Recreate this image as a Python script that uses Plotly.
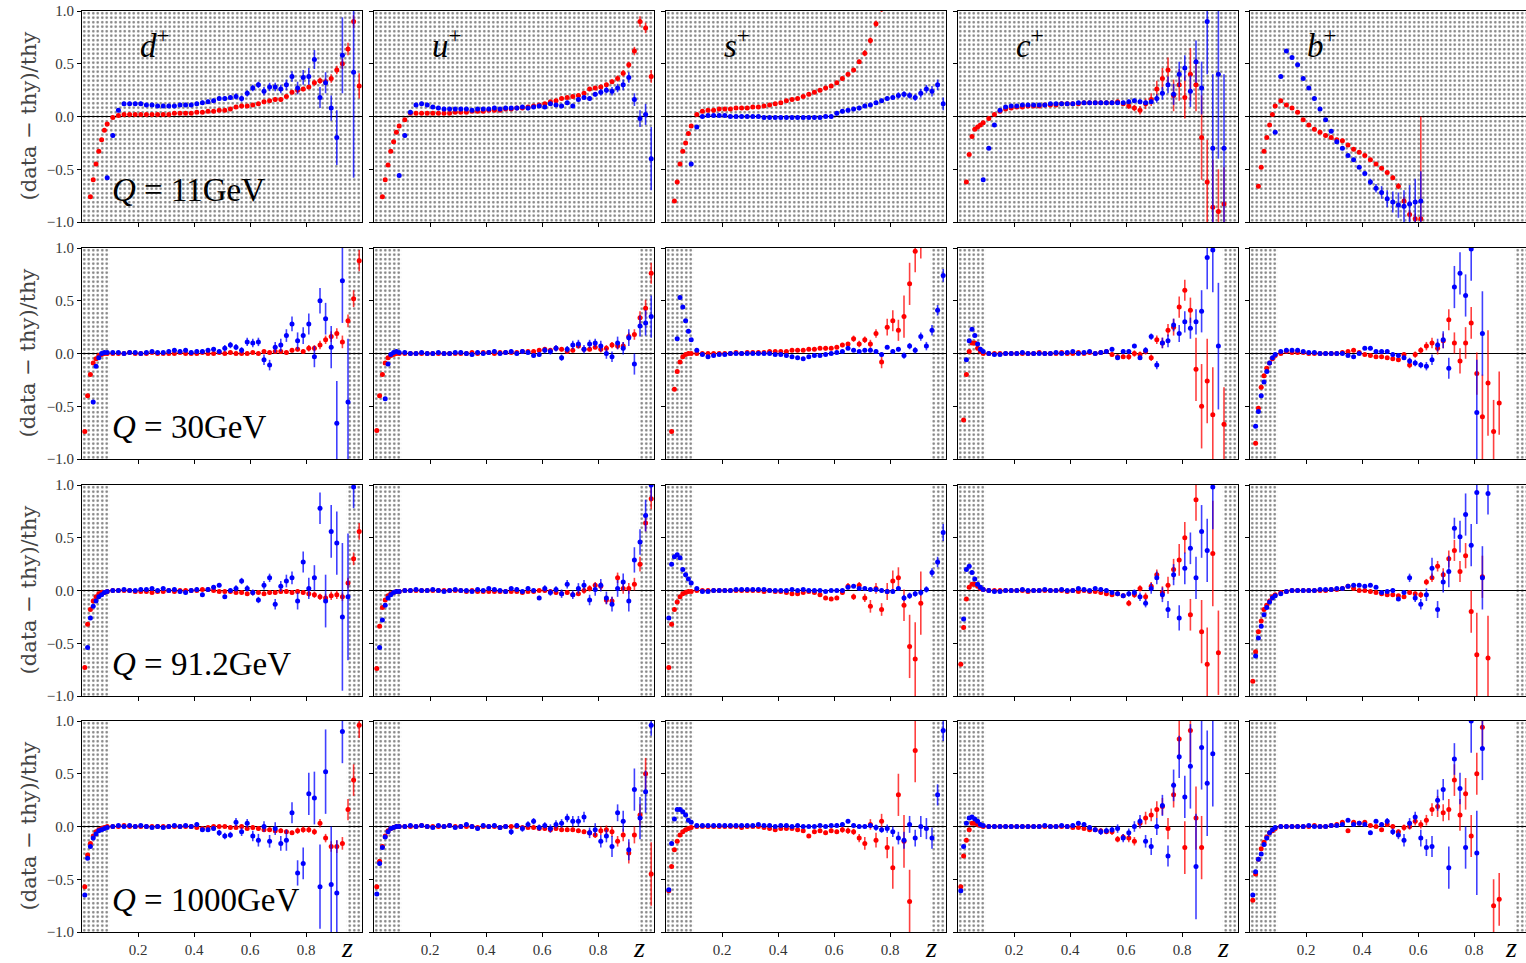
import plotly.graph_objects as go
from plotly.subplots import make_subplots

N = None
# z grid shared by every panel
Z = [0.01, 0.02, 0.03, 0.04, 0.05, 0.06, 0.07, 0.08, 0.09,
     0.11, 0.13, 0.15, 0.17, 0.19, 0.21, 0.23, 0.25, 0.27, 0.29,
     0.31, 0.33, 0.35, 0.37, 0.39, 0.41, 0.43, 0.45, 0.47, 0.49,
     0.51, 0.53, 0.55, 0.57, 0.59, 0.61, 0.63, 0.65, 0.67, 0.69,
     0.71, 0.73, 0.75, 0.77, 0.79, 0.81, 0.83, 0.85, 0.87, 0.89,
     0.91, 0.93, 0.95, 0.97, 0.99]

FLAVOURS = ["d", "u", "s", "c", "b"]
Q_LABELS = ["11GeV", "30GeV", "91.2GeV", "1000GeV"]
SHADE_LOW_Z = 0.10
SHADE_HIGH_Z = 0.946
Y_TICKS = [-1.0, -0.5, 0.0, 0.5, 1.0]
X_TICKS = [0.2, 0.4, 0.6, 0.8]

# values in units of 0.01 ((data-thy)/thy * 100), errors likewise
# ---------------- Q = 11 GeV ----------------
d11_red = [N,N,-76,-60,-45,-33,-22,-13,-7,
 -1,1,2,2,2,2,2,2,2,2,
 2,3,3,3,3,4,4,5,5,6,
 6,7,9,10,10,11,12,14,15,16,
 16,19,23,25,26,28,32,34,33,36,
 44,50,64,90,29]
d11_red_err = [0,0,1,1,1,1,1,1,1,
 1,1,1,1,1,1,1,1,1,1,
 1,1,1,1,1,1,1,1,1,1,
 1,1,1,1,1,1,1,1,1,2,
 2,2,2,2,2,2,3,3,3,4,
 4,5,6,6,12]
d11_blue = [N,N,N,N,N,N,N,N,-58,
 -18,6,12,12,12,12,11,11,10,10,
 10,10,11,11,11,12,13,14,15,17,
 17,18,19,17,22,27,30,24,28,28,
 26,30,38,27,37,38,54,18,32,8,
 -20,58,N,42,N]
d11_blue_err = [0,0,0,0,0,0,0,0,1,
 2,2,2,2,2,2,2,2,2,2,
 2,2,2,2,2,2,2,2,2,2,
 2,2,3,3,3,3,3,4,4,4,
 4,5,5,6,7,8,9,10,10,12,
 26,36,0,100,0]

u11_red = [N,N,-76,-60,-46,-33,-24,-15,-9,
 -3,3,3,3,3,3,3,3,3,4,
 4,4,5,5,5,6,6,6,7,7,
 8,8,9,10,11,12,14,15,17,18,
 19,20,22,26,27,28,30,33,36,41,
 49,62,90,84,38]
u11_red_err = [0,0,1,1,1,1,1,1,1,
 1,1,1,1,1,1,1,1,1,1,
 1,1,1,1,1,1,1,1,1,1,
 1,1,1,1,1,1,1,1,1,1,
 1,1,1,1,1,2,2,2,3,3,
 3,4,5,5,6]
u11_blue = [N,N,N,N,N,N,N,N,-56,
 -18,4,11,12,11,9,8,7,7,7,
 7,7,6,7,7,7,8,7,8,8,
 8,9,8,9,10,9,12,11,10,13,
 10,16,18,17,21,23,25,24,27,30,
 37,16,-2,2,-40]
u11_blue_err = [0,0,0,0,0,0,0,0,1,
 2,2,2,2,2,2,2,2,2,2,
 2,2,2,2,2,2,2,2,2,2,
 2,2,2,2,2,2,2,2,2,2,
 2,2,2,2,2,3,3,4,4,5,
 5,6,8,10,30]

s11_red = [N,N,-80,-62,-45,-33,-25,-16,-9,
 2,5,6,6,7,7,7,8,8,8,
 9,9,10,11,12,13,15,16,17,19,
 21,23,25,27,29,32,36,40,44,52,
 60,72,88,102,120,N,N,N,N,N,
 N,N,N,N,N]
s11_red_err = [0,0,1,1,1,1,1,1,1,
 1,1,1,1,1,1,1,1,1,1,
 1,1,1,1,1,1,1,1,1,1,
 1,1,1,1,1,2,2,2,2,2,
 3,3,3,3,3,0,0,0,0,0,
 0,0,0,0,0]
s11_blue = [N,N,N,N,N,N,N,N,-45,
 -10,0,1,1,1,1,0,0,0,0,
 0,0,-1,-1,-1,-1,-1,-1,-1,-1,
 -1,-1,-1,0,0,3,5,6,7,8,
 10,11,13,15,17,18,20,21,20,18,
 22,26,24,30,12]
s11_blue_err = [0,0,0,0,0,0,0,0,1,
 1,1,1,1,1,1,1,1,1,1,
 1,1,1,1,1,1,1,1,1,1,
 1,1,1,1,1,2,2,2,2,2,
 2,2,2,2,2,2,3,3,3,3,
 4,4,5,5,6]

c11_red = [N,N,-62,-36,-19,-12,-10,-8,-6,
 -2,2,5,7,8,9,9,10,10,10,
 11,11,11,12,12,12,12,13,13,13,
 13,13,13,14,12,10,8,6,12,16,
 26,36,44,20,30,18,40,30,-20,-62,
 -86,-90,-83,N,N]
c11_red_err = [0,0,1,1,1,1,1,1,1,
 1,1,1,1,1,1,1,1,1,1,
 1,1,1,1,1,1,1,1,1,1,
 1,1,1,1,2,3,3,4,5,6,
 8,10,12,15,15,20,25,25,40,40,
 45,40,35,0,0]
c11_blue = [N,N,N,N,N,N,N,N,-60,
 -30,-8,6,9,10,10,11,11,11,11,
 11,12,12,12,12,12,13,13,13,13,
 13,13,13,13,13,14,15,14,13,14,
 17,22,30,21,40,46,24,52,27,90,
 -30,40,-30,N,N]
c11_blue_err = [0,0,0,0,0,0,0,0,1,
 1,1,1,1,1,1,1,1,1,1,
 1,1,1,1,1,1,1,1,1,1,
 2,2,2,2,2,2,2,2,2,2,
 4,6,8,10,12,12,15,20,25,50,
 70,80,70,0,0]

b11_red = [N,N,-66,-48,-33,-20,-8,2,10,
 15,11,8,4,-3,-8,-12,-15,-18,-20,
 -22,-23,-27,-31,-34,-37,-41,-45,-49,-53,
 -58,-66,-80,-93,-97,-97,N,N,N,N,
 N,N,N,N,N,N,N,N,N,N,
 N,N,N,N,N]
b11_red_err = [0,0,1,1,1,1,1,1,1,
 1,1,1,1,1,1,1,1,1,1,
 1,1,1,1,1,1,1,1,1,2,
 2,3,4,4,5,97,0,0,0,0,
 0,0,0,0,0,0,0,0,0,0,
 0,0,0,0,0]
b11_blue = [N,N,N,N,N,N,N,N,-15,
 38,62,56,49,36,27,17,7,-3,-14,
 -24,-30,-37,-41,-48,-54,-62,-68,-72,-78,
 -81,-84,-85,-83,-81,-80,N,N,N,N,
 N,N,N,N,N,N,N,N,N,N,
 N,N,N,N,N]
b11_blue_err = [0,0,0,0,0,0,0,0,1,
 1,1,1,1,1,1,1,1,1,1,
 1,1,1,1,1,2,3,4,6,8,
 10,12,15,18,22,28,0,0,0,0,
 0,0,0,0,0,0,0,0,0,0,
 0,0,0,0,0]

# ---------------- Q = 30 GeV ----------------
d30_red = [-74,-40,-20,-9,-5,-2,-1,0,0,
 0,0,0,1,0,0,0,1,0,0,
 0,0,1,0,0,0,1,0,0,1,
 0,1,0,0,0,1,0,2,1,2,
 2,1,3,4,2,5,5,8,13,16,
 19,11,31,52,88]
d30_red_err = [1,1,1,1,1,1,1,1,1,
 1,1,1,1,1,1,1,1,1,1,
 1,1,1,1,1,1,1,1,1,1,
 1,1,1,1,1,1,1,1,1,1,
 1,1,2,2,2,3,3,4,4,5,
 5,6,6,8,10]
d30_blue = [N,N,N,-46,-12,-4,0,1,1,
 1,1,0,1,1,0,1,2,1,1,
 2,3,2,3,1,2,2,3,4,2,
 5,8,6,3,11,10,11,-6,-11,6,
 8,17,28,12,17,28,-3,50,33,6,
 -66,69,-46,N,N]
d30_blue_err = [0,0,0,1,1,1,1,1,1,
 1,1,1,1,1,1,1,1,1,1,
 2,2,2,2,2,2,2,2,2,2,
 3,3,3,3,4,4,4,5,5,5,
 6,6,7,8,8,10,10,12,15,20,
 40,40,60,0,0]

u30_red = [-73,-40,-20,-9,-4,-2,-1,0,0,
 0,0,0,0,0,0,0,0,0,0,
 0,0,1,0,1,1,0,1,1,1,
 1,2,2,2,3,4,3,5,4,2,
 3,7,4,4,6,4,5,8,7,7,
 16,18,34,43,76]
u30_red_err = [1,1,1,1,1,1,1,1,1,
 1,1,1,1,1,1,1,1,1,1,
 1,1,1,1,1,1,1,1,1,1,
 1,1,1,2,2,2,2,2,2,2,
 2,2,2,2,2,3,3,3,3,4,
 4,5,6,8,10]
u30_blue = [N,N,N,-43,-10,-1,1,2,1,
 1,0,0,1,0,0,1,0,0,1,
 1,0,-1,1,0,1,2,0,1,2,
 0,2,1,-2,-1,3,2,5,-4,4,
 8,9,4,9,10,7,0,-3,10,5,
 15,-10,26,29,35]
u30_blue_err = [0,0,0,1,1,1,1,1,1,
 1,1,1,1,1,1,1,1,1,1,
 2,2,2,2,2,2,2,2,2,2,
 2,2,2,2,2,3,3,3,3,3,
 4,4,4,4,4,5,5,5,6,6,
 8,10,10,12,20]

s30_red = [N,-74,-34,-17,-8,-3,-1,0,0,
 0,0,0,0,0,0,0,1,0,1,
 1,1,1,2,2,2,2,3,3,3,
 4,4,5,5,5,6,8,9,14,9,
 13,9,19,-8,25,31,22,35,66,97,
 110,N,N,N,N]
s30_red_err = [0,1,1,1,1,1,1,1,1,
 1,1,1,1,1,1,1,1,1,1,
 1,1,1,1,1,1,1,1,1,1,
 1,1,1,2,2,2,2,2,3,3,
 3,4,4,6,8,10,10,20,20,20,
 20,0,0,0,0]
s30_blue = [N,N,N,14,53,44,31,21,13,
 3,-1,-3,-2,-1,-1,0,0,0,0,
 0,0,0,0,-1,-1,-2,-3,-4,-5,
 -3,-2,-2,-1,0,1,2,5,3,2,
 3,3,2,-1,6,2,4,-2,7,3,
 16,7,22,41,74]
s30_blue_err = [0,0,0,1,1,1,1,1,1,
 1,1,1,1,1,1,1,1,1,1,
 1,1,1,1,1,1,1,1,1,1,
 1,1,1,1,1,1,1,1,1,1,
 2,2,2,2,2,2,2,3,3,3,
 4,4,5,5,6]

c30_red = [N,-63,-20,2,10,10,5,2,0,
 0,0,0,0,0,0,0,0,0,1,
 0,0,0,1,0,0,1,0,1,0,
 1,2,-1,-3,-3,-3,0,-1,2,-4,
 13,10,22,25,44,60,41,-15,-50,-26,
 -58,N,-67,N,N]
c30_red_err = [0,1,1,1,1,1,1,1,1,
 1,1,1,1,1,1,1,1,1,1,
 1,1,1,1,1,1,1,1,1,1,
 2,2,2,2,2,3,3,3,3,3,
 4,5,6,8,10,10,12,30,40,40,
 45,0,35,0,0]
c30_blue = [N,N,-6,12,23,17,9,4,2,
 0,-1,-1,0,0,0,1,0,0,0,
 0,0,1,0,1,2,0,1,2,0,
 1,2,4,-4,2,2,7,-4,3,16,
 -11,10,12,27,19,30,24,30,40,91,
 98,7,N,N,N]
c30_blue_err = [0,0,1,1,1,1,1,1,1,
 1,1,1,1,1,1,1,1,1,1,
 1,1,1,1,1,1,1,1,1,1,
 2,2,2,2,2,2,2,2,3,3,
 4,5,6,6,8,10,10,12,20,30,
 40,60,0,0,0]

b30_red = [N,-85,-52,-32,-21,-14,-9,-5,-2,
 0,2,1,1,1,0,0,0,0,0,
 0,1,2,3,1,-1,-2,-3,-3,-4,
 -5,-6,-1,-11,-1,3,7,10,5,12,
 32,10,-7,10,29,-19,-60,-28,-74,-47,
 N,N,N,N,N]
b30_red_err = [0,1,1,1,1,1,1,1,1,
 1,1,1,1,1,1,1,1,1,1,
 1,1,1,1,1,1,1,1,1,1,
 2,2,2,3,3,3,4,5,6,7,
 10,10,12,15,15,20,40,50,30,30,
 0,0,0,0,0]
b30_blue = [N,-69,-55,-40,-27,-17,-9,-4,-1,
 2,3,3,3,2,1,1,0,0,0,
 0,0,-2,-3,0,5,5,2,2,2,
 -1,-2,-4,-7,-9,-11,-12,-6,8,13,
 -14,63,76,55,99,-56,19,N,N,N,
 N,N,N,N,N]
b30_blue_err = [0,1,1,1,1,1,1,1,1,
 1,1,1,1,1,1,1,1,1,1,
 1,1,1,1,1,1,1,1,1,1,
 2,2,2,3,3,3,4,5,6,8,
 10,20,20,20,30,50,40,0,0,0,
 0,0,0,0,0]

# ---------------- Q = 91.2 GeV ----------------
d91_red = [-73,-32,-18,-10,-6,-3,-2,-2,-1,
 0,0,0,0,-1,-1,-1,-2,-1,-1,
 0,-1,0,0,0,0,1,1,0,-1,
 -1,-1,-2,-2,-3,-2,-2,-3,-2,-2,
 -1,-1,-2,-1,-2,-3,-4,-6,-7,-5,
 -4,-6,7,30,56]
d91_red_err = [1,1,1,1,1,1,1,1,1,
 1,1,1,1,1,1,1,1,1,1,
 1,1,1,1,1,1,1,1,1,1,
 1,1,1,1,1,1,1,2,2,2,
 2,2,2,2,2,3,3,3,4,4,
 4,4,5,6,8]
d91_blue = [N,-54,-26,-15,-10,-6,-4,-2,-1,
 0,0,1,0,0,1,1,2,0,2,
 0,1,-1,-2,0,1,-4,1,3,5,
 -6,0,2,9,2,-2,-9,5,12,-13,
 4,9,12,-10,27,2,12,78,-10,56,
 45,-25,-6,98,N]
d91_blue_err = [0,1,1,1,1,1,1,1,1,
 1,1,1,1,1,1,1,1,1,1,
 2,2,2,2,2,2,2,2,2,2,
 2,2,3,3,3,3,3,4,4,5,
 5,6,6,8,10,10,12,15,25,25,
 30,70,60,20,0]

u91_red = [-74,-34,-16,-9,-5,-3,-2,-1,-1,
 0,0,0,0,0,0,0,0,0,0,
 0,-1,0,-1,-1,-1,-1,-1,-1,-1,
 -1,-2,-1,-1,0,0,-1,-2,-3,-2,
 -4,-3,0,2,5,4,-9,-10,12,2,
 2,6,25,64,87]
u91_red_err = [1,1,1,1,1,1,1,1,1,
 1,1,1,1,1,1,1,1,1,1,
 1,1,1,1,1,1,1,1,1,1,
 1,1,1,1,1,2,2,2,2,2,
 2,2,3,3,3,4,4,4,5,5,
 5,6,7,8,10]
u91_blue = [N,-54,-28,-14,-7,-4,-2,-1,-1,
 0,0,1,0,0,1,0,-1,0,1,
 0,0,-1,1,0,2,1,0,-1,2,
 1,-1,2,0,-7,2,-2,1,-3,6,
 -4,2,5,-9,1,5,-7,-13,2,8,
 -10,29,46,71,100]
u91_blue_err = [0,1,1,1,1,1,1,1,1,
 1,1,1,1,1,1,1,1,1,1,
 1,1,1,1,1,1,1,1,1,1,
 2,2,2,2,2,3,3,3,4,4,
 4,5,5,5,6,6,6,7,8,8,
 10,12,12,15,15]

s91_red = [-73,-32,-18,-11,-6,-3,-2,-1,-1,
 0,0,0,0,0,0,0,0,0,0,
 0,0,-1,0,-1,-1,-2,-3,-3,-2,
 -1,-2,-4,-7,-8,-7,-2,4,-6,5,
 -7,-15,2,-18,-1,9,12,-14,-53,-65,
 -12,N,N,N,N]
s91_red_err = [1,1,1,1,1,1,1,1,1,
 1,1,1,1,1,1,1,1,1,1,
 1,1,1,1,1,1,1,1,1,1,
 1,1,2,2,2,2,2,3,3,3,
 4,6,5,6,8,10,10,15,30,35,
 30,0,0,0,0]
s91_blue = [-26,25,32,34,31,20,15,11,7,
 2,-1,-1,0,0,0,0,1,1,1,
 1,1,1,0,0,0,0,1,0,1,
 0,0,0,-1,0,0,0,3,4,2,
 2,1,1,0,-1,-1,2,-7,-5,-3,
 -2,1,17,27,55]
s91_blue_err = [1,1,1,1,1,1,1,1,1,
 1,1,1,1,1,1,1,1,1,1,
 1,1,1,1,1,1,1,1,1,1,
 1,1,1,1,1,1,1,1,1,1,
 2,2,2,2,2,2,2,3,3,3,
 3,3,4,5,8]

c91_red = [-70,-35,-8,3,6,6,4,2,1,
 0,0,0,0,0,0,0,-1,0,0,
 0,0,0,0,-1,0,-1,0,-1,-1,
 -2,-3,-4,-3,-5,-12,-4,2,-6,4,
 15,-2,5,20,29,50,-23,86,-39,-70,
 35,-59,N,N,N]
c91_red_err = [1,1,1,1,1,1,1,1,1,
 1,1,1,1,1,1,1,1,1,1,
 1,1,1,1,1,1,1,1,1,1,
 2,2,2,2,2,3,3,3,4,4,
 5,6,8,10,15,15,15,20,30,35,
 50,40,0,0,0]
c91_blue = [N,-27,20,23,17,11,6,3,1,
 0,-1,-1,0,0,0,1,0,0,0,
 1,0,0,1,0,0,2,1,0,2,
 1,0,-2,-3,-5,-3,-2,-6,-12,2,
 12,-4,-18,15,-26,21,40,12,56,38,
 98,N,N,N,N]
c91_blue_err = [0,1,1,1,1,1,1,1,1,
 1,1,1,1,1,1,1,1,1,1,
 1,1,1,1,1,1,1,1,1,1,
 2,2,2,2,2,3,3,4,4,5,
 6,7,8,10,12,15,15,20,25,30,
 40,0,0,0,0]

b91_red = [-86,-58,-39,-29,-18,-14,-10,-6,-4,
 -2,-1,0,0,0,0,0,0,0,1,
 1,2,4,2,0,0,-1,-2,-3,-4,
 -4,-5,-6,-2,-3,-4,8,12,23,15,
 30,38,18,33,-20,-61,13,-64,N,N,
 N,N,N,N,N]
b91_red_err = [1,1,1,1,1,1,1,1,1,
 1,1,1,1,1,1,1,1,1,1,
 1,1,1,1,1,1,1,1,1,1,
 1,1,1,2,2,3,3,4,5,6,
 8,10,10,12,20,40,20,40,0,0,
 0,0,0,0,0]
b91_blue = [N,-62,-45,-34,-23,-16,-11,-7,-5,
 -3,-1,0,0,0,0,0,1,1,1,
 2,2,4,5,5,4,5,3,-2,-1,
 0,-8,-2,12,-7,-13,-4,21,-18,8,
 18,59,51,72,43,93,12,92,N,N,
 N,N,N,N,N]
b91_blue_err = [0,1,1,1,1,1,1,1,1,
 1,1,1,1,1,1,1,1,1,1,
 1,1,1,1,1,1,1,1,1,1,
 2,2,2,4,4,5,6,10,8,10,
 15,10,15,20,20,30,30,20,0,0,
 0,0,0,0,0]

# ---------------- Q = 1000 GeV ----------------
d1000_red = [-57,-27,-16,-9,-5,-3,-2,-1,0,
 0,0,1,0,0,0,0,0,0,0,
 0,0,0,0,0,-1,-2,-1,0,0,
 0,-1,-1,0,-2,-1,-2,-3,-3,-4,
 -4,-5,-6,-4,-3,-3,-5,3,-11,-19,
 -19,-16,16,44,96]
d1000_red_err = [1,1,1,1,1,1,1,1,1,
 1,1,1,1,1,1,1,1,1,1,
 1,1,1,1,1,1,1,1,1,1,
 1,1,1,1,1,2,2,2,2,2,
 2,2,2,3,3,3,3,4,4,5,
 6,6,10,15,12]
d1000_blue = [-65,-30,-19,-11,-7,-4,-3,-2,-1,
 0,1,0,1,0,1,0,-1,0,-1,
 0,1,0,1,0,2,-3,-3,-2,-6,
 -9,-8,4,-5,3,-9,-13,0,-14,-2,
 -16,-13,13,-44,-35,31,27,-57,52,-55,
 -63,90,N,N,N]
d1000_blue_err = [1,1,1,1,1,1,1,1,1,
 1,1,1,1,1,1,1,1,1,1,
 1,1,1,1,1,2,2,2,2,3,
 3,3,4,4,4,5,6,5,6,6,
 7,10,10,12,15,20,25,40,40,55,
 50,30,0,0,0]

u1000_red = [-57,-33,-19,-9,-4,-2,-1,0,0,
 0,0,0,1,0,0,0,0,1,0,
 0,0,0,-1,0,0,0,-1,0,0,
 0,-1,-1,-1,-2,-2,-3,-2,-3,-3,
 -3,-4,-5,-6,-8,-4,-3,-5,-14,-8,
 -25,-8,11,50,-45]
u1000_red_err = [1,1,1,1,1,1,1,1,1,
 1,1,1,1,1,1,1,1,1,1,
 1,1,1,1,1,1,1,1,1,1,
 1,1,1,1,1,2,2,2,2,2,
 2,2,2,3,3,4,4,5,5,6,
 10,8,10,15,30]
u1000_blue = [-64,-35,-20,-10,-5,-2,-1,0,0,
 0,1,0,1,0,-1,1,0,1,-1,
 0,2,0,-2,1,0,1,-1,0,-5,
 1,-2,2,5,-1,1,-2,2,3,8,
 5,5,9,-6,-3,-14,-9,-19,13,5,
 -22,35,8,33,96]
u1000_blue_err = [1,1,1,1,1,1,1,1,1,
 1,1,1,1,1,1,1,1,1,1,
 2,2,2,2,2,2,2,2,2,3,
 2,3,3,3,3,3,4,4,4,4,
 5,5,5,5,6,6,6,10,8,10,
 10,20,20,20,10]

s1000_red = [-61,-38,-22,-14,-8,-5,-3,-2,-1,
 0,0,0,0,0,0,0,0,-1,0,
 0,0,-1,-2,-3,-2,-2,-2,-3,-4,
 -9,-5,-4,-6,-4,-5,-3,-4,-5,-11,
 -16,2,-13,5,-20,-39,30,-14,-71,72,
 N,N,N,N,N]
s1000_red_err = [1,1,1,1,1,1,1,1,1,
 1,1,1,1,1,1,1,1,1,1,
 1,1,1,1,1,1,1,1,1,1,
 2,2,2,2,2,2,3,3,3,4,
 6,5,7,7,10,20,20,25,30,30,
 0,0,0,0,0]
s1000_blue = [-60,-16,7,16,16,14,11,6,4,
 1,1,1,1,1,1,1,1,1,1,
 1,2,1,1,0,1,1,0,1,0,
 0,0,1,0,1,1,2,5,1,0,
 0,1,-1,-3,-2,-5,-11,-13,2,-11,
 0,-2,-11,30,91]
s1000_blue_err = [1,1,1,1,1,1,1,1,1,
 1,1,1,1,1,1,1,1,1,1,
 1,1,1,1,1,1,1,1,1,1,
 1,1,1,1,1,2,2,2,2,2,
 2,2,3,3,4,5,6,8,8,8,
 10,10,10,10,10]

c1000_red = [-57,-28,-13,-3,3,3,2,1,0,
 0,0,0,0,0,0,0,0,0,0,
 0,0,0,0,0,-1,-1,-2,-3,-3,
 -4,-5,-5,-12,-10,-11,-14,3,8,11,
 16,19,-2,30,83,-20,91,8,-20,N,
 N,N,N,N,N]
c1000_red_err = [1,1,1,1,1,1,1,1,1,
 1,1,1,1,1,1,1,1,1,1,
 1,1,1,1,1,1,1,1,1,1,
 2,2,3,3,3,4,4,5,6,6,
 8,8,10,12,20,25,30,30,30,0,
 0,0,0,0,0]
c1000_blue = [-61,-19,3,8,9,7,5,2,1,
 0,0,0,0,0,0,0,0,0,0,
 1,0,0,1,0,1,3,2,-1,-3,
 -5,-4,-3,-2,-11,-6,0,5,-14,-19,
 0,20,-28,39,66,28,57,-38,75,41,
 69,N,N,N,N]
c1000_blue_err = [1,1,1,1,1,1,1,1,1,
 1,1,1,1,1,1,1,1,1,1,
 1,1,1,1,1,2,2,2,2,2,
 3,3,3,4,4,4,5,6,6,8,
 8,10,10,15,20,20,40,50,40,50,
 50,0,0,0,0]

b1000_red = [-70,-45,-31,-21,-15,-10,-6,-4,-2,
 0,0,0,0,0,0,1,0,0,1,
 2,4,-4,4,3,4,1,0,-3,2,
 0,-5,-1,0,5,2,6,16,19,13,
 16,44,11,31,-9,50,94,N,-75,-69,
 N,N,N,N,N]
b1000_red_err = [1,1,1,1,1,1,1,1,1,
 1,1,1,1,1,1,1,1,1,1,
 1,1,1,1,1,1,1,1,1,1,
 2,2,3,3,4,4,5,6,10,8,
 10,15,15,15,20,20,20,0,25,25,
 0,0,0,0,0]
b1000_blue = [-65,-43,-31,-26,-17,-11,-6,-3,-1,
 0,0,0,0,0,1,0,0,0,1,
 1,2,6,2,3,2,-6,5,2,5,
 -5,-8,-13,3,9,-11,-20,-19,25,35,
 -39,64,36,-20,100,-25,74,N,N,N,
 N,N,N,N,N]
b1000_blue_err = [1,1,1,1,1,1,1,1,1,
 1,1,1,1,1,1,1,1,1,1,
 1,1,1,1,1,2,2,2,2,3,
 3,4,6,5,5,8,8,10,10,10,
 20,15,15,20,30,40,30,0,0,0,
 0,0,0,0,0]

PANELS = [
    [(d11_red, d11_red_err, d11_blue, d11_blue_err),
     (u11_red, u11_red_err, u11_blue, u11_blue_err),
     (s11_red, s11_red_err, s11_blue, s11_blue_err),
     (c11_red, c11_red_err, c11_blue, c11_blue_err),
     (b11_red, b11_red_err, b11_blue, b11_blue_err)],
    [(d30_red, d30_red_err, d30_blue, d30_blue_err),
     (u30_red, u30_red_err, u30_blue, u30_blue_err),
     (s30_red, s30_red_err, s30_blue, s30_blue_err),
     (c30_red, c30_red_err, c30_blue, c30_blue_err),
     (b30_red, b30_red_err, b30_blue, b30_blue_err)],
    [(d91_red, d91_red_err, d91_blue, d91_blue_err),
     (u91_red, u91_red_err, u91_blue, u91_blue_err),
     (s91_red, s91_red_err, s91_blue, s91_blue_err),
     (c91_red, c91_red_err, c91_blue, c91_blue_err),
     (b91_red, b91_red_err, b91_blue, b91_blue_err)],
    [(d1000_red, d1000_red_err, d1000_blue, d1000_blue_err),
     (u1000_red, u1000_red_err, u1000_blue, u1000_blue_err),
     (s1000_red, s1000_red_err, s1000_blue, s1000_blue_err),
     (c1000_red, c1000_red_err, c1000_blue, c1000_blue_err),
     (b1000_red, b1000_red_err, b1000_blue, b1000_blue_err)],
]

for r, row in enumerate(PANELS):
    for c, arrs in enumerate(row):
        for i, a in enumerate(arrs):
            if len(a) != len(Z):
                raise ValueError(f"panel r{r} c{c} array {i} has length {len(a)}")


def scaled(vals):
    return [None if v is None else v / 100.0 for v in vals]


# ---------------- layout geometry (pixels) ----------------
W, H = 1526, 963
COL_LEFT = [82, 374, 666, 958, 1250]
ROW_TOP = [11, 248, 485, 721]
PW, PH = 280, 211
SERIF = "Liberation Serif"
TITLE_SERIF = "DejaVu Serif"
TICK_FONT = dict(family=SERIF, size=15, color="#333333")

fig = make_subplots(rows=4, cols=5)

pattern = dict(shape=".", fgcolor="black", bgcolor="rgba(0,0,0,0)",
               size=4.5, solidity=0.25)

annotations = []
for r in range(4):
    for c in range(5):
        k = r * 5 + c + 1
        left = COL_LEFT[c]
        right = min(left + PW, W)
        zmax = (right - left) / PW
        top = ROW_TOP[r]
        bottom = top + PH
        fig.update_xaxes(domain=[left / W, right / W], range=[0, zmax],
                         tickvals=X_TICKS, tickformat=".1f",
                         showticklabels=(r == 3), ticks="outside", ticklen=4,
                         tickwidth=1, tickcolor="black", showline=True,
                         linecolor="black", linewidth=1, mirror=True,
                         showgrid=False, zeroline=False, automargin=False,
                         tickfont=TICK_FONT, row=r + 1, col=c + 1)
        fig.update_yaxes(domain=[(H - bottom) / H, (H - top) / H], range=[-1, 1],
                         tickvals=Y_TICKS, tickformat=".1f",
                         showticklabels=(c == 0), ticks="outside", ticklen=4,
                         tickwidth=1, tickcolor="black", showline=True,
                         linecolor="black", linewidth=1, mirror=(c < 4),
                         showgrid=False, zeroline=True, zerolinecolor="black",
                         zerolinewidth=1.2, automargin=False,
                         tickfont=TICK_FONT, row=r + 1, col=c + 1)

        # dotted (hatched) regions
        if r == 0:
            spans = [(0.0, 1.0)]
        else:
            spans = [(0.0, SHADE_LOW_Z), (SHADE_HIGH_Z, 1.0)]
        for z0, z1 in spans:
            fig.add_trace(go.Scatter(
                x=[z0, z1, z1, z0, z0], y=[-1, -1, 1, 1, -1], mode="lines",
                line=dict(width=0, color="rgba(0,0,0,0)"), fill="toself",
                fillcolor="rgba(0,0,0,0)", fillpattern=pattern,
                hoverinfo="skip", showlegend=False), row=r + 1, col=c + 1)

        red, red_err, blue, blue_err = PANELS[r][c]
        for vals, errs, col, ecol in ((red, red_err, "#ff0000", "rgba(255,0,0,0.75)"),
                                      (blue, blue_err, "#0000ff", "rgba(0,0,255,0.75)")):
            fig.add_trace(go.Scatter(
                x=Z, y=scaled(vals), mode="markers",
                marker=dict(size=5, color=col, line=dict(width=0)),
                error_y=dict(type="data", array=scaled(errs), visible=True,
                             color=ecol, thickness=1.6, width=0),
                showlegend=False, hoverinfo="skip"), row=r + 1, col=c + 1)

        xdom = "x domain" if k == 1 else f"x{k} domain"
        ydom = "y domain" if k == 1 else f"y{k} domain"
        if r == 0:
            annotations.append(dict(
                text=f"<i>{FLAVOURS[c]}</i><sup>+</sup>", xref=xdom, yref=ydom,
                x=0.2, y=0.85, xanchor="left", yanchor="middle", showarrow=False,
                font=dict(family=SERIF, size=33, color="black")))
        if c == 0:
            annotations.append(dict(
                text=f"<i>Q</i> = {Q_LABELS[r]}", xref=xdom, yref=ydom,
                x=0.1, y=0.15, xanchor="left", yanchor="middle", showarrow=False,
                font=dict(family=SERIF, size=33, color="black")))
            annotations.append(dict(
                text="(data \u2212 thy)/thy", xref="paper", yref="paper",
                x=28 / W, y=(H - (top + bottom) / 2) / H, xanchor="center",
                yanchor="middle", textangle=-90, showarrow=False,
                font=dict(family=TITLE_SERIF, size=21, color="#444444")))
        if r == 3:
            annotations.append(dict(
                text="<i>z</i>", xref=xdom, yref="paper",
                x=0.946, y=(H - 947) / H, xanchor="center", yanchor="middle",
                showarrow=False, font=dict(family=SERIF, size=28, color="black")))

fig.update_layout(width=W, height=H, margin=dict(l=0, r=0, t=0, b=0),
                  plot_bgcolor="white", paper_bgcolor="white",
                  showlegend=False, annotations=annotations,
                  font=dict(family=SERIF))

fig.write_html("out.html")
